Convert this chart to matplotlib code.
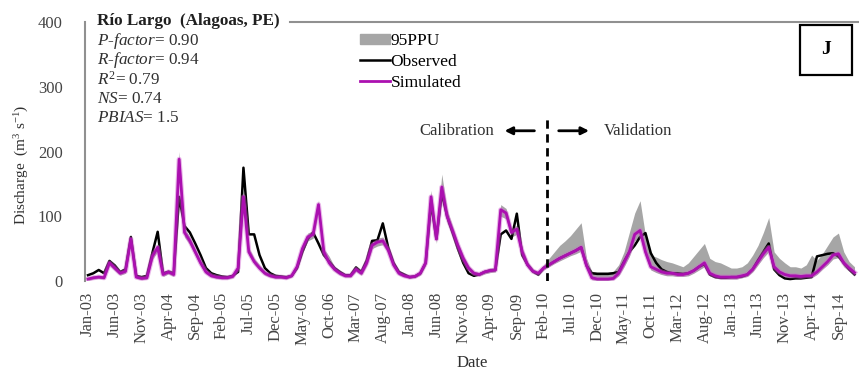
import numpy as np
import pandas as pd
import matplotlib
matplotlib.use('Agg')
import matplotlib.pyplot as plt
from matplotlib.patches import Patch, Rectangle
from matplotlib.lines import Line2D

plt.rcParams['font.family'] = ['Liberation Serif', 'DejaVu Serif']
plt.rcParams['mathtext.fontset'] = 'custom'
plt.rcParams['mathtext.rm'] = 'Liberation Serif'
plt.rcParams['mathtext.it'] = 'Liberation Serif:italic'

# monthly discharge (m3/s), Jan-2003 .. Dec-2014, one list per year
observed = [
    [9, 12, 17, 12, 31, 24, 14, 18, 68, 8, 6, 8],
    [43, 76, 12, 14, 12, 130, 85, 75, 58, 40, 20, 12],
    [9, 7, 6, 8, 14, 175, 72, 72, 40, 20, 12, 8],
    [7, 6, 8, 20, 45, 65, 75, 58, 40, 30, 20, 14],
    [9, 9, 21, 14, 32, 62, 63, 89, 52, 28, 14, 10],
    [6, 7, 12, 28, 120, 65, 135, 100, 75, 50, 28, 12],
    [8, 10, 14, 16, 17, 72, 78, 65, 104, 40, 25, 15],
    [10, 20, 25, 30, 35, 39, 43, 47, 52, 24, 12, 11],
    [11, 11, 12, 14, 30, 45, 55, 68, 74, 43, 28, 18],
    [14, 12, 12, 11, 12, 16, 22, 26, 10, 6, 5, 5],
    [6, 6, 7, 10, 18, 32, 45, 58, 18, 9, 4, 3],
    [4, 4, 5, 6, 38, 40, 42, 43, 38, 28, 18, 10],
]
simulated = [
    [3, 5, 6, 5, 28, 20, 12, 15, 65, 6, 4, 5],
    [38, 52, 10, 14, 10, 188, 75, 62, 45, 28, 14, 8],
    [6, 5, 5, 7, 20, 130, 45, 30, 20, 12, 8, 6],
    [6, 5, 8, 22, 50, 68, 72, 118, 45, 28, 18, 12],
    [8, 8, 18, 12, 28, 55, 60, 62, 48, 25, 12, 8],
    [6, 7, 12, 28, 130, 65, 145, 100, 78, 55, 35, 20],
    [12, 10, 14, 16, 17, 110, 105, 75, 80, 45, 25, 15],
    [12, 20, 25, 30, 35, 39, 43, 47, 52, 24, 5, 3],
    [3, 3, 4, 12, 28, 45, 72, 78, 45, 22, 18, 14],
    [12, 12, 10, 10, 12, 16, 22, 28, 12, 8, 6, 6],
    [6, 6, 8, 10, 18, 30, 42, 52, 22, 14, 10, 8],
    [8, 7, 8, 8, 14, 22, 30, 40, 42, 28, 20, 13],
]
ppu_upper = [
    [6, 8, 9, 8, 33, 24, 15, 19, 72, 9, 7, 8],
    [43, 58, 14, 18, 14, 200, 82, 68, 50, 32, 17, 11],
    [9, 8, 8, 10, 24, 140, 52, 35, 25, 16, 11, 9],
    [9, 8, 11, 26, 56, 74, 78, 125, 50, 38, 22, 15],
    [11, 11, 22, 16, 33, 62, 66, 68, 54, 30, 16, 11],
    [9, 10, 15, 33, 140, 72, 165, 110, 85, 60, 40, 24],
    [15, 13, 17, 20, 21, 118, 112, 82, 86, 52, 30, 19],
    [14, 25, 35, 45, 55, 62, 70, 80, 90, 35, 15, 14],
    [14, 14, 15, 25, 45, 75, 105, 124, 70, 40, 37, 33],
    [30, 28, 25, 22, 28, 38, 48, 58, 35, 30, 28, 24],
    [20, 20, 22, 28, 40, 55, 75, 98, 45, 35, 28, 22],
    [22, 20, 25, 40, 32, 42, 55, 68, 74, 45, 30, 22],
]
ppu_lower = [
    [1, 3, 4, 3, 24, 16, 9, 12, 58, 4, 2, 3],
    [33, 46, 7, 11, 7, 170, 68, 56, 40, 24, 11, 6],
    [4, 3, 3, 5, 16, 115, 40, 26, 17, 9, 6, 4],
    [4, 3, 6, 18, 44, 62, 66, 108, 40, 24, 15, 9],
    [6, 6, 15, 9, 24, 50, 54, 56, 43, 21, 9, 6],
    [4, 5, 9, 24, 118, 58, 130, 90, 70, 48, 30, 16],
    [9, 8, 11, 13, 14, 100, 96, 68, 72, 40, 21, 12],
    [8, 17, 22, 27, 31, 35, 39, 42, 46, 18, 2, 1],
    [1, 1, 2, 8, 22, 38, 62, 68, 38, 17, 13, 10],
    [8, 8, 7, 7, 8, 12, 17, 22, 8, 5, 3, 3],
    [3, 3, 5, 7, 14, 25, 36, 45, 17, 10, 7, 5],
    [5, 4, 5, 5, 10, 18, 25, 34, 36, 22, 15, 9],
]

stats = [
    r'$\mathit{P}$-$\mathit{factor}$= 0.90',
    r'$\mathit{R}$-$\mathit{factor}$= 0.94',
    r'$\mathit{R}^{2}$= 0.79',
    r'$\mathit{NS}$= 0.74',
    r'$\mathit{PBIAS}$= 1.5',
]
split_month = 85.6  # end of calibration (Feb-10)

obs = np.concatenate(observed)
sim = np.concatenate(simulated)
up = np.concatenate(ppu_upper)
lo = np.concatenate(ppu_lower)
dates = pd.date_range('2003-01-01', periods=len(obs), freq='MS')
x = np.arange(len(obs))

fig = plt.figure(figsize=(8.59, 3.69), dpi=100)
ax = fig.add_axes([85 / 859, 1 - 281 / 369, 1 - 85 / 859, 259 / 369])

ax.fill_between(x, lo, up, color='#a6a6a6', lw=0, label='95PPU')
ax.plot(x, obs, color='black', lw=1.8, label='Observed')
ax.plot(x, sim, color='#d060d0', lw=3.6, alpha=0.45)
ax.plot(x, sim, color='#ab10b0', lw=2.0, label='Simulated')

ax.set_xlim(-0.56, 143.84)
ax.set_ylim(0, 400)
ax.set_yticks([0, 100, 200, 300, 400])
ticks = x[::5]
ax.set_xticks(ticks)
ax.set_xticklabels([dates[i].strftime('%b-%y') for i in ticks], rotation=90)
ax.tick_params(axis='both', length=0, colors='#454545', labelsize=12)
ax.tick_params(axis='y', pad=16)
ax.tick_params(axis='x', pad=8)

for s in ['top', 'right', 'bottom']:
    ax.spines[s].set_visible(False)
ax.spines['left'].set_color('#909090')
ax.spines['left'].set_linewidth(1.5)
ax.plot([0.265, 1], [1, 1], transform=ax.transAxes, color='#909090',
        lw=1.5, clip_on=False)

ax.set_xlabel('Date', fontsize=12, color='#303030', labelpad=7)
fig.text(22 / 859, 1 - 165 / 369, 'Discharge  (m$^{3}$ s$^{-1}$)', rotation=90,
         ha='center', va='center', fontsize=11, color='#303030')

# station name and performance indices
fig.text(97 / 859, 1 - 21 / 369, 'Río Largo  (Alagoas, PE)', fontsize=12.3,
         fontweight='bold', va='center', color='#202020')
for i, s in enumerate(stats):
    fig.text(97 / 859, 1 - (41 + 19.2 * i) / 369, s, fontsize=12.3,
             va='center', color='#303030')

handles = [Patch(color='#a6a6a6'),
           Line2D([], [], color='black', lw=1.8),
           Line2D([], [], color='#ab10b0', lw=2.0)]
fig.legend(handles, ['95PPU', 'Observed', 'Simulated'], loc='upper left',
           bbox_to_anchor=(360 / 859, 1 - 33 / 369), frameon=False,
           fontsize=12.5, handlelength=1.75, handleheight=0.5,
           handletextpad=0.0, labelspacing=0.28, borderpad=0,
           borderaxespad=0)

# panel letter
fig.patches.append(Rectangle((800 / 859, 1 - 75 / 369), 52 / 859, 50 / 369,
                             transform=fig.transFigure, fill=False,
                             edgecolor='black', lw=1.6))
fig.text(826 / 859, 1 - 50 / 369, 'J', fontsize=14, fontweight='bold',
         ha='center', va='center')

# calibration / validation split
ax.plot([split_month, split_month], [0, 252], color='black', lw=2,
        ls=(0, (3, 2)))
ax.annotate('', xy=(77.2, 232), xytext=(83.8, 232),
            arrowprops=dict(arrowstyle='-|>', color='black', lw=2,
                            mutation_scale=11))
ax.annotate('', xy=(94.0, 232), xytext=(87.3, 232),
            arrowprops=dict(arrowstyle='-|>', color='black', lw=2,
                            mutation_scale=11))
ax.text(75.8, 232, 'Calibration', ha='right', va='center', fontsize=12,
        color='#303030')
ax.text(96.2, 232, 'Validation', ha='left', va='center', fontsize=12,
        color='#303030')

fig.savefig('out.png', dpi=100)
